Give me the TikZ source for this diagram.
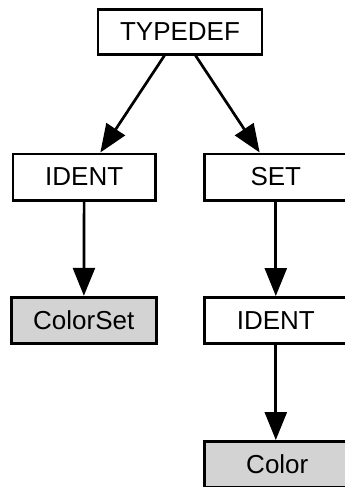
\documentclass[tikz,border=0pt]{standalone}
\usepackage{fontspec}
\setmainfont{Liberation Sans}
\usetikzlibrary{arrows.meta}
\definecolor{leafgray}{HTML}{D3D3D3}
\begin{document}
\begin{tikzpicture}[x=1pt,y=-1pt,
  treenode/.style={draw=black, line width=2.7pt, rectangle, inner sep=0pt,
    minimum width=142.3pt, minimum height=46.3pt,
    font=\fontsize{26pt}{30pt}\selectfont},
  leafnode/.style={treenode, fill=leafgray, minimum width=145pt},
  edge/.style={draw=black, line width=2.7pt,
    -{Triangle[length=28pt,width=22pt]}}]
  \useasboundingbox (0,0) rectangle (345,487);
  \clip (0,0) rectangle (345,487);
  % syntax tree nodes
  \node[treenode, minimum width=164pt, minimum height=44.6pt] (td) at (180,32) {TYPEDEF};
  \node[treenode] (id1) at (84.2,177) {IDENT};
  \node[treenode] (set) at (275.8,177) {SET};
  \node[leafnode] (cs) at (83.8,320.3) {ColorSet};
  \node[treenode] (id2) at (275.8,320.5) {IDENT};
  \node[leafnode] (col) at (277.3,464.5) {Color};
  % edges
  \draw[edge] (td) -- (id1);
  \draw[edge] (td) -- (set);
  \draw[edge] (id1) -- (cs);
  \draw[edge] (set) -- (id2);
  \draw[edge] (id2.south) -- (id2.south |- col.north);
\end{tikzpicture}
\end{document}
